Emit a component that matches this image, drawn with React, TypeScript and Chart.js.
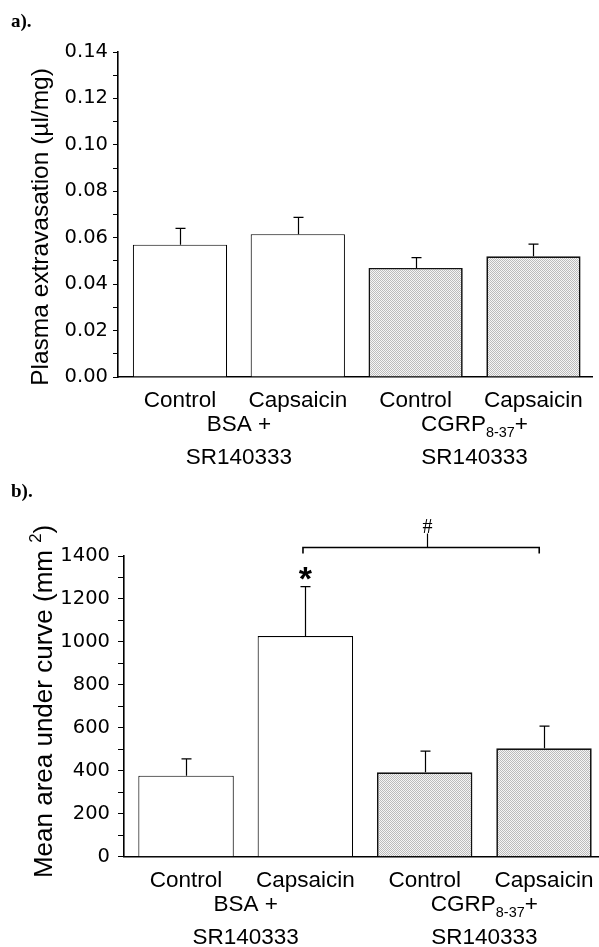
import React, { useEffect, useRef } from 'react';
import { Chart, registerables } from 'chart.js';

Chart.register(...registerables);

// ---------- data ----------
const CATEGORIES = ['Control', 'Capsaicin', 'Control', 'Capsaicin'];
const CATEGORY_POS = [0, 1, 2, 3];
const SHADED = [false, false, true, true];

const PLASMA_MEAN = [0.057, 0.0615, 0.047, 0.052];
const PLASMA_UPPER = [0.064, 0.0688, 0.0514, 0.0572];
const PLASMA_TICKS = [0, 0.01, 0.02, 0.03, 0.04, 0.05, 0.06, 0.07, 0.08, 0.09, 0.1, 0.11, 0.12, 0.13, 0.14];
const PLASMA_LABELED = [0, 0.02, 0.04, 0.06, 0.08, 0.1, 0.12, 0.14];

const AUC_MEAN = [377, 1027, 393, 505];
const AUC_UPPER = [455, 1257, 492, 608];
const AUC_TICKS = [0, 100, 200, 300, 400, 500, 600, 700, 800, 900, 1000, 1100, 1200, 1300, 1400];
const AUC_LABELED = [0, 200, 400, 600, 800, 1000, 1200, 1400];

type Piece = { t: string; sub?: boolean; sup?: boolean };
const GROUPS: { from: number; to: number; line1: Piece[]; line2: string }[] = [
  { from: 0, to: 1, line1: [{ t: 'BSA +' }], line2: 'SR140333' },
  { from: 2, to: 3, line1: [{ t: 'CGRP' }, { t: '8-37', sub: true }, { t: '+' }], line2: 'SR140333' },
];

const PLASMA_TITLE: Piece[] = [{ t: 'Plasma extravasation (\u00b5l/mg)' }];
const AUC_TITLE: Piece[] = [{ t: 'Mean area under curve (mm ' }, { t: '2', sup: true }, { t: ')' }];

// significance marks for panel b (data units)
const STAR_INDEX = 1;
const BRACKET = { from: 0.98, to: 2.96, stem: 2.02, level: 1442, mark: '#' };

type Cfg = {
  tag: string;
  tagBaseline: number;
  height: number;
  yWidth: number;
  padTop: number;
  padRight: number;
  xHeight: number;
  xMin: number;
  xMax: number;
  yMax: number;
  means: number[];
  uppers: number[];
  ticks: number[];
  labeled: number[];
  fmt: (v: number) => string;
  tickLen: number;
  tickPad: number;
  title: Piece[];
  titleSize: number;
  titleX: number;
  titleY: number;
  signif: boolean;
};

const SANS = '"Liberation Sans", Arial, sans-serif';

function fontFor(p: Piece, size: number) {
  const s = p.sub || p.sup ? size * 0.64 : size;
  return `${s}px ${SANS}`;
}

function drawRich(ctx: CanvasRenderingContext2D, pieces: Piece[], cx: number, by: number, size: number) {
  let total = 0;
  const widths = pieces.map((p) => {
    ctx.font = fontFor(p, size);
    const w = ctx.measureText(p.t).width;
    total += w;
    return w;
  });
  let x = cx - total / 2;
  ctx.textAlign = 'left';
  ctx.textBaseline = 'alphabetic';
  pieces.forEach((p, i) => {
    ctx.font = fontFor(p, size);
    const dy = p.sub ? size * 0.26 : p.sup ? -size * 0.42 : 0;
    ctx.fillText(p.t, x, by + dy);
    x += widths[i];
  });
}

function makeDecor(cfg: Cfg) {
  return {
    id: 'decor',
    afterDatasetsDraw(chart: any) {
      const ctx: CanvasRenderingContext2D = chart.ctx;
      const ys = chart.scales.y;
      const meta = chart.getDatasetMeta(0);
      ctx.save();
      ctx.strokeStyle = '#000';
      ctx.lineWidth = 1.2;
      meta.data.forEach((bar: any, i: number) => {
        const x = Math.round(bar.x) + 0.5;
        const yErr = ys.getPixelForValue(cfg.uppers[i]);
        ctx.beginPath();
        ctx.moveTo(x, bar.y);
        ctx.lineTo(x, yErr);
        ctx.moveTo(x - 5, yErr);
        ctx.lineTo(x + 5, yErr);
        ctx.stroke();
      });
      ctx.restore();
    },
    afterDraw(chart: any) {
      const ctx: CanvasRenderingContext2D = chart.ctx;
      const xs = chart.scales.x;
      const ys = chart.scales.y;
      const area = chart.chartArea;
      ctx.save();
      ctx.fillStyle = '#000';

      // panel tag
      ctx.font = 'bold 19px "Liberation Serif", serif';
      ctx.textAlign = 'left';
      ctx.textBaseline = 'alphabetic';
      ctx.fillText(cfg.tag, 11, cfg.tagBaseline);

      // category labels
      ctx.font = `22.5px ${SANS}`;
      ctx.textAlign = 'center';
      CATEGORIES.forEach((c, i) => {
        ctx.fillText(c, xs.getPixelForValue(CATEGORY_POS[i]), area.bottom + 30);
      });

      // group labels
      GROUPS.forEach((g) => {
        const cx = xs.getPixelForValue((g.from + g.to) / 2);
        drawRich(ctx, g.line1, cx, area.bottom + 54, 22.5);
        ctx.font = `22.5px ${SANS}`;
        ctx.textAlign = 'center';
        ctx.fillText(g.line2, cx, area.bottom + 87);
      });

      // y title
      ctx.save();
      ctx.translate(cfg.titleX, cfg.titleY);
      ctx.rotate(-Math.PI / 2);
      drawRich(ctx, cfg.title, 0, 0, cfg.titleSize);
      ctx.restore();

      if (cfg.signif) {
        const meta = chart.getDatasetMeta(0);
        const bar = meta.data[STAR_INDEX];
        const errTop = ys.getPixelForValue(cfg.uppers[STAR_INDEX]);
        ctx.font = `bold 34px ${SANS}`;
        ctx.textAlign = 'center';
        ctx.textBaseline = 'alphabetic';
        const m = ctx.measureText('*');
        const centerY = errTop - 13;
        const base = centerY + (m.actualBoundingBoxAscent - m.actualBoundingBoxDescent) / 2;
        ctx.fillText('*', bar.x, base);

        const ly = Math.round(ys.getPixelForValue(BRACKET.level)) + 0.5;
        const x1 = xs.getPixelForValue(BRACKET.from);
        const x2 = xs.getPixelForValue(BRACKET.to);
        const xm = Math.round(xs.getPixelForValue(BRACKET.stem)) + 0.5;
        ctx.strokeStyle = '#000';
        ctx.lineWidth = 1.6;
        ctx.beginPath();
        ctx.moveTo(x1, ly + 6);
        ctx.lineTo(x1, ly);
        ctx.lineTo(x2, ly);
        ctx.lineTo(x2, ly + 6);
        ctx.stroke();
        ctx.lineWidth = 1.2;
        ctx.beginPath();
        ctx.moveTo(xm, ly);
        ctx.lineTo(xm, ly - 14);
        ctx.stroke();
        ctx.font = '20px "Liberation Serif", serif';
        ctx.textAlign = 'center';
        ctx.fillText(BRACKET.mark, xm, ly - 15);
      }
      ctx.restore();
    },
  };
}

function makeStipple(ctx: CanvasRenderingContext2D) {
  const c = document.createElement('canvas');
  c.width = 2;
  c.height = 2;
  const g = c.getContext('2d')!;
  g.fillStyle = '#f6f6f6';
  g.fillRect(0, 0, 2, 2);
  g.fillStyle = '#bcbcbc';
  g.fillRect(0, 0, 1, 1);
  g.fillRect(1, 1, 1, 1);
  return ctx.createPattern(c, 'repeat');
}

function Panel({ cfg }: { cfg: Cfg }) {
  const ref = useRef<HTMLCanvasElement>(null);
  useEffect(() => {
    const canvas = ref.current!;
    const ctx = canvas.getContext('2d')!;
    const pat = makeStipple(ctx) as any;
    const chart = new Chart(canvas, {
      type: 'bar',
      data: {
        datasets: [
          {
            data: CATEGORY_POS.map((x, i) => ({ x, y: cfg.means[i] })) as any,
            backgroundColor: SHADED.map((s) => (s ? pat : '#ffffff')),
            borderColor: SHADED.map((s) => (s ? '#111111' : '#000000')),
            borderWidth: SHADED.map((s) => (s ? 1.7 : 1.1)),
            borderSkipped: 'bottom',
            barPercentage: 0.8,
            categoryPercentage: 1,
          },
        ],
      },
      options: {
        responsive: false,
        animation: false,
        devicePixelRatio: 1,
        layout: { padding: { left: 0, top: cfg.padTop, right: cfg.padRight, bottom: 0 } },
        plugins: { legend: { display: false }, tooltip: { enabled: false }, title: { display: false } },
        scales: {
          x: {
            type: 'linear',
            min: cfg.xMin,
            max: cfg.xMax,
            offset: false,
            afterBuildTicks: (s: any) => {
              s.ticks = CATEGORY_POS.map((v) => ({ value: v }));
            },
            afterFit: (s: any) => {
              s.height = cfg.xHeight;
            },
            ticks: { display: false },
            grid: { display: false, drawTicks: false },
            border: { display: true, color: '#000', width: 1.6 },
          },
          y: {
            type: 'linear',
            min: 0,
            max: cfg.yMax,
            afterBuildTicks: (s: any) => {
              s.ticks = cfg.ticks.map((v) => ({ value: v }));
            },
            afterFit: (s: any) => {
              s.width = cfg.yWidth;
            },
            ticks: {
              display: true,
              autoSkip: false,
              padding: cfg.tickPad,
              color: '#000',
              font: { family: '"DejaVu Sans"', size: 19.5 },
              callback: (v: any) =>
                cfg.labeled.some((l) => Math.abs(l - Number(v)) < 1e-9) ? cfg.fmt(Number(v)) : '',
            },
            grid: {
              display: true,
              drawOnChartArea: false,
              drawTicks: true,
              tickLength: cfg.tickLen,
              color: '#000',
              lineWidth: 1,
            },
            border: { display: true, color: '#000', width: 1.6 },
          },
        },
      } as any,
      plugins: [makeDecor(cfg)],
    });
    return () => chart.destroy();
  }, [cfg]);
  return <canvas ref={ref} width={599} height={cfg.height} style={{ display: 'block' }} />;
}

const CFG_A: Cfg = {
  tag: 'a).',
  tagBaseline: 27,
  height: 474,
  yWidth: 118,
  padTop: 52,
  padRight: 7,
  xHeight: 97,
  xMin: -0.526,
  xMax: 3.497,
  yMax: 0.14,
  means: PLASMA_MEAN,
  uppers: PLASMA_UPPER,
  ticks: PLASMA_TICKS,
  labeled: PLASMA_LABELED,
  fmt: (v) => v.toFixed(2),
  tickLen: 5,
  tickPad: 5,
  title: PLASMA_TITLE,
  titleSize: 24.5,
  titleX: 48,
  titleY: 227,
  signif: false,
};

const CFG_B: Cfg = {
  tag: 'b).',
  tagBaseline: 23,
  height: 473,
  yWidth: 124,
  padTop: 82,
  padRight: 0,
  xHeight: 90.3,
  xMin: -0.52,
  xMax: 3.461,
  yMax: 1400,
  means: AUC_MEAN,
  uppers: AUC_UPPER,
  ticks: AUC_TICKS,
  labeled: AUC_LABELED,
  fmt: (v) => String(Math.round(v)),
  tickLen: 6,
  tickPad: 8,
  title: AUC_TITLE,
  titleSize: 26,
  titleX: 52,
  titleY: 227.5,
  signif: true,
};

export default function App() {
  return (
    <div style={{ position: 'absolute', left: 0, top: 0, width: 599, height: 947, background: '#fff' }}>
      <Panel cfg={CFG_A} />
      <Panel cfg={CFG_B} />
    </div>
  );
}
